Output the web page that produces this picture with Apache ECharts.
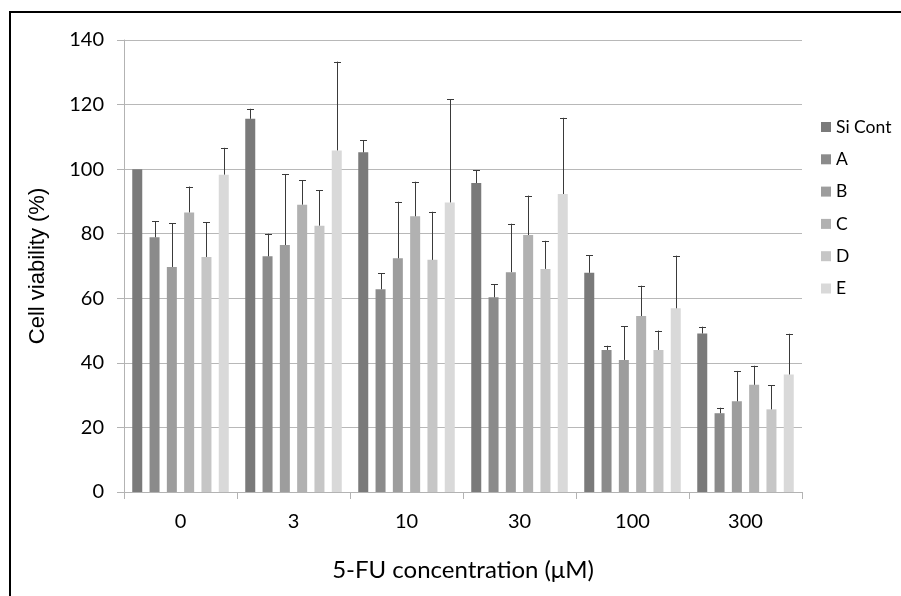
<!DOCTYPE html>
<html>
<head>
<meta charset="utf-8">
<script src="https://cdn.jsdelivr.net/npm/echarts@6/dist/echarts.min.js"></script>
<style>
    html, body { margin: 0; padding: 0; background: #fff; }
    #echart_canvas { width: 901px; height: 596px; }
</style>
</head>
<body>
<div id="echart_canvas"></div>
<script>
let categories = ['0', '3', '10', '30', '100', '300'];
let seriesNames = ['Si Cont', 'A', 'B', 'C', 'D', 'E'];

let siCont = [100, 115.6, 105.2, 95.7, 67.9, 49.1];
let siContErr = [0, 3.1, 3.7, 3.9, 5.4, 2.1];
let groupA = [78.9, 73, 62.8, 60.3, 44, 24.4];
let groupAErr = [5, 7, 5, 4, 1.3, 1.7];
let groupB = [69.7, 76.5, 72.4, 68.1, 40.9, 28.1];
let groupBErr = [13.6, 22, 17.5, 15, 10.5, 9.4];
let groupC = [86.6, 89, 85.4, 79.6, 54.5, 33.2];
let groupCErr = [8, 7.5, 10.7, 12.2, 9.4, 5.9];
let groupD = [72.8, 82.5, 71.9, 69.1, 44, 25.6];
let groupDErr = [10.7, 11, 14.9, 8.7, 6, 7.4];
let groupE = [98.3, 105.8, 89.7, 92.3, 56.9, 36.4];
let groupEErr = [8.3, 27.5, 32, 23.6, 16.3, 12.6];

let yTicks = [0, 20, 40, 60, 80, 100, 120, 140];

let values = [siCont, groupA, groupB, groupC, groupD, groupE];
let errors = [siContErr, groupAErr, groupBErr, groupCErr, groupDErr, groupEErr];
let colors = ['#7a7a7a', '#8b8b8b', '#9d9d9d', '#b1b1b1', '#c6c6c6', '#d9d9d9'];

let barWidth = 10;
let barGap = 0.73;
let pitch = barWidth * (1 + barGap);
let fontName = 'Lato';

let myChart = echarts.init(document.getElementById('echart_canvas'), null, {renderer: 'canvas'});

function errorRenderer(seriesIdx) {
    return function (params, api) {
        let cat = api.value(0);
        let val = api.value(1);
        let err = api.value(2);
        if (!err) {
            return null;
        }
        let base = api.coord([cat, val]);
        let top = api.coord([cat, val + err]);
        let x = Math.round(base[0] + (seriesIdx - 2.5) * pitch) + 0.5;
        let style = {stroke: '#3a3a3a', lineWidth: 1};
        return {
            type: 'group',
            children: [
                {type: 'line', shape: {x1: x, y1: base[1], x2: x, y2: top[1]}, style: style},
                {type: 'line', shape: {x1: x - 3.5, y1: Math.round(top[1]) + 0.5, x2: x + 3.5, y2: Math.round(top[1]) + 0.5}, style: style}
            ]
        };
    };
}

let series = [];
for (let i in values) {
    series.push({
        name: seriesNames[i],
        type: 'bar',
        data: values[i],
        barWidth: barWidth,
        barGap: (barGap * 100) + '%',
        itemStyle: {color: colors[i]},
        silent: true
    });
}
for (let i in values) {
    let errData = [];
    for (let j in categories) {
        errData.push([parseInt(j), values[i][j], errors[i][j]]);
    }
    series.push({
        type: 'custom',
        renderItem: errorRenderer(parseInt(i)),
        data: errData,
        z: 10,
        silent: true
    });
}

let option = {
    animation: false,
    backgroundColor: '#ffffff',
    textStyle: {fontFamily: fontName, color: '#000'},
    graphic: [{
        type: 'rect',
        shape: {x: 10, y: 12, width: 1000, height: 1000},
        style: {fill: 'none', stroke: '#000', lineWidth: 2},
        silent: true
    }],
    grid: {left: 124, right: 99, top: 40, bottom: 104},
    legend: {
        data: seriesNames,
        orient: 'vertical',
        left: 821,
        top: 118,
        padding: 0,
        itemWidth: 10,
        itemHeight: 10,
        itemGap: 14.3,
        icon: 'rect',
        textStyle: {fontFamily: fontName, fontSize: 17.5, color: '#000', lineHeight: 18}
    },
    xAxis: {
        type: 'category',
        data: categories,
        name: '5-FU concentration (\u03bcM)',
        nameLocation: 'middle',
        nameGap: 66,
        nameTextStyle: {fontFamily: fontName, fontSize: 24, color: '#000'},
        axisLine: {lineStyle: {color: '#b3b3b3', width: 1}},
        axisTick: {show: true, length: 7, lineStyle: {color: '#b3b3b3'}},
        axisLabel: {fontFamily: fontName, fontSize: 20, color: '#000', margin: 20}
    },
    yAxis: {
        type: 'value',
        min: yTicks[0],
        max: yTicks[yTicks.length - 1],
        interval: 20,
        name: 'Cell viability (%)',
        nameLocation: 'middle',
        nameGap: 75,
        nameTextStyle: {fontFamily: 'Liberation Sans', fontSize: 22, color: '#000'},
        axisLine: {show: true, lineStyle: {color: '#b3b3b3', width: 1}},
        axisTick: {show: true, length: 7, lineStyle: {color: '#b3b3b3'}},
        axisLabel: {fontFamily: fontName, fontSize: 20, color: '#000', margin: 20},
        splitLine: {lineStyle: {color: '#b8b8b8', width: 1}}
    },
    series: series
};

myChart.setOption(option);
</script>
</body>
</html>
